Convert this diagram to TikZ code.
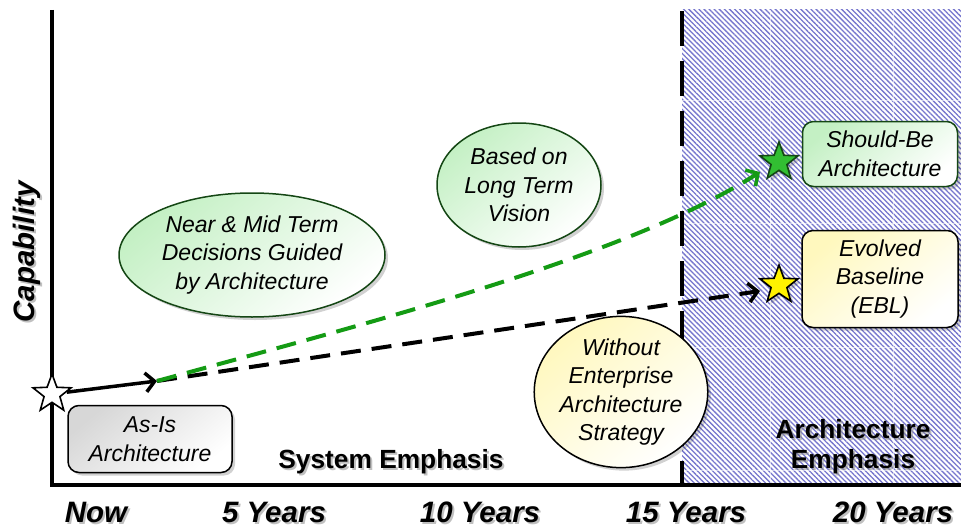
\documentclass[tikz,border=0pt]{standalone}
\usepackage{fontspec}
\setmainfont{Liberation Sans}
\usetikzlibrary{shapes.geometric,arrows.meta,shadows,patterns.meta}
\definecolor{lgreen}{RGB}{196,240,196}
\definecolor{dgreen}{RGB}{20,70,20}
\definecolor{lyellow}{RGB}{255,248,190}
\definecolor{lgray}{RGB}{215,215,215}
\definecolor{hatchc}{RGB}{118,118,205}
\definecolor{arrgreen}{RGB}{20,155,20}
\definecolor{stargreen}{RGB}{50,190,50}
\tikzset{
  itxt/.style={font=\fontsize{23}{28.5}\selectfont\itshape, align=center, inner sep=0pt},
  softshadow/.style={drop shadow={shadow xshift=3pt, shadow yshift=-3pt, fill=black, opacity=0.18}},
  gell/.style={ellipse, draw=dgreen, line width=1.5pt, top color=lgreen, bottom color=white, shading angle=40, softshadow, itxt},
  yell/.style={ellipse, draw=black, line width=1.5pt, top color=lyellow, bottom color=white, shading angle=40, softshadow, itxt},
  gbox/.style={rectangle, rounded corners=11pt, draw=dgreen, line width=1.5pt, top color=lgreen, bottom color=white, shading angle=40, softshadow, itxt},
  ybox/.style={rectangle, rounded corners=11pt, draw=black, line width=1.5pt, top color=lyellow, bottom color=white, shading angle=40, softshadow, itxt},
  abox/.style={rectangle, rounded corners=11pt, draw=black, line width=1.5pt, top color=lgray, bottom color=white, shading angle=40, softshadow, itxt},
  starshape/.style={star, star points=5, star point ratio=2.4, minimum size=40pt, inner sep=0pt, draw=black, line width=1.6pt},
  blab/.style={font=\fontsize{26.3}{30}\selectfont\bfseries, align=center, inner sep=0pt, anchor=base},
  axlab/.style={font=\fontsize{29.5}{32}\selectfont\bfseries\itshape, inner sep=0pt, anchor=base},
  shad/.style={text=black!45, opacity=0.55},
  dasharrow/.style={line width=4pt, dash pattern=on 20pt off 11pt, -{Straight Barb[length=9pt,width=19pt,line width=3.5pt]}},
}
\begin{document}
\begin{tikzpicture}[x=1pt,y=-1pt]
\useasboundingbox (0,0) rectangle (961,527);
% hatched architecture region
\fill[white] (682,10) rectangle (961,485);
\fill[pattern={Lines[angle=-45,distance=3.6pt,line width=1.3pt]}, pattern color=hatchc] (682,10) rectangle (961,485);
\foreach \yy in {100,223,347,470} \draw[white, line width=0.9pt, opacity=0.6] (682,\yy) -- (961,\yy);
\foreach \xx in {770,893} \draw[white, line width=0.9pt, opacity=0.6] (\xx,10) -- (\xx,485);
% dashed separator
\draw[line width=4pt, dash pattern=on 35pt off 15pt] (682,11) -- (682,485);
% axes
\draw[line width=4pt] (52,10) -- (52,485) -- (961,485);
% axis labels with shadows
\foreach \nm/\xx/\tx in {now/96/Now, yfive/274/5 Years, yten/480/10 Years, yfifteen/686/15 Years, ytwenty/893/20 Years}{
  \node[axlab, shad] (\nm s) at (\xx+2,524) {\tx};
  \node[axlab] (\nm) at (\xx,522) {\tx};
}
\node[axlab, shad, rotate=90] (caps) at (36,254) {Capability};
\node[axlab, rotate=90] (cap) at (34,252) {Capability};
\node[blab, shad] (syss) at (393,470) {System Emphasis};
\node[blab] (sys) at (391,468) {System Emphasis};
\node[blab, shad] (archs) at (855,470) {Architecture\\Emphasis};
\node[blab] (arch) at (853,468) {Architecture\\Emphasis};
% stars
\node[starshape, fill=white] (s0) at (52,394) {};
\node[starshape, fill=stargreen, draw=dgreen, softshadow] (sg) at (779,162) {};
\node[starshape, fill=yellow, softshadow] (sy) at (779,285) {};
% path points
\coordinate (mid) at (157,381);
\coordinate (gend) at (760,172);
\coordinate (yend) at (760,291);
\draw[line width=3.5pt, -{Straight Barb[length=9pt,width=19pt,line width=3.5pt]}] (s0) -- (mid);
\draw[dasharrow, black] (mid) -- (yend);
\draw[dasharrow, arrgreen] (mid) .. controls (380,320) and (630,255) .. (gend);
% callouts
\node[gell, minimum width=266pt, minimum height=124pt] (near) at (252,255) {Near \& Mid Term\\Decisions Guided\\by Architecture};
\node[gell, minimum width=164pt, minimum height=124pt] (based) at (519,185) {Based on\\Long Term\\Vision};
\node[yell, minimum width=160pt, minimum height=130pt] (without) at (621,392) {Without\\Enterprise\\Architecture\\Strategy};
\node[gbox, minimum width=155pt, minimum height=65pt] (should) at (880,154) {Should-Be\\Architecture};
\node[ybox, minimum width=156pt, minimum height=97pt] (evolved) at (880,279) {Evolved\\Baseline\\(EBL)};
\node[abox, minimum width=164pt, minimum height=67pt] (asis) at (150,439) {As-Is\\Architecture};
\end{tikzpicture}
\end{document}
